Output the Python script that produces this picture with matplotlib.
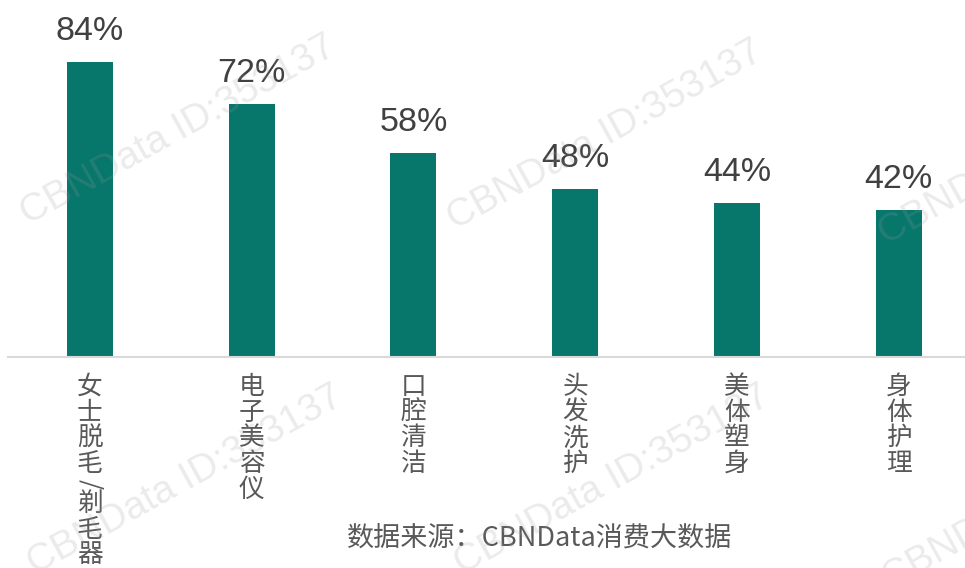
import matplotlib
matplotlib.use('Agg')
import matplotlib.pyplot as plt

categories = ['女士脱毛/剃毛器', '电子美容仪', '口腔清洁', '头发洗护', '美体塑身', '身体护理']
values = [84, 72, 58, 48, 44, 42]
value_labels = ['84%', '72%', '58%', '48%', '44%', '42%']
source = '数据来源：CBNData消费大数据'
watermark = 'CBNData ID:353137'

W, H = 965, 568
BAR = '#07776B'
TXT = '#404040'
CAT = '#595959'

fig = plt.figure(figsize=(W / 100, H / 100), dpi=100)
ax = fig.add_axes([8 / W, (H - 357) / H, 957 / W, 357 / H])

step = 161.8
x0 = -(89.8 - 8) / step
ax.set_xlim(x0, x0 + 957 / step)
ax.set_ylim(0, 357 / 3.51)

xs = list(range(len(values)))
ax.bar(xs, values, width=46 / step, color=BAR, zorder=2)

for i, v in enumerate(values):
    ax.annotate(value_labels[i], (i, v), xytext=(0, 15.8), textcoords='offset points',
                ha='center', va='baseline', fontsize=24.5, color=TXT,
                family=['Liberation Sans', 'DejaVu Sans'])

# category labels written top to bottom, one character at a time
for i, name in enumerate(categories):
    pos = 17.25
    for ch in name:
        adv = 14.5 if ch == '/' else 25.6
        mid = pos + adv / 2
        pos += adv
        ax.annotate(ch, (i, 0), xytext=(0, -mid * 0.72), textcoords='offset points',
                    ha='center', va='center', fontsize=18.5, color=CAT,
                    rotation=-90 if ch == '/' else 0, rotation_mode='anchor',
                    family=['Noto Sans CJK SC', 'DejaVu Sans'], annotation_clip=False)

for s in ['top', 'right', 'left']:
    ax.spines[s].set_visible(False)
ax.spines['bottom'].set_color('#D9D9D9')
ax.spines['bottom'].set_linewidth(1.5)
ax.set_xticks([])
ax.set_yticks([])

fig.text(540 / W, 1 - 538 / H, source, ha='center', va='center', fontsize=19.5,
         color=CAT, family=['Noto Sans CJK SC', 'DejaVu Sans'])

for cx, cy in [(178, 130), (605, 135), (1036, 150), (185, 480), (612, 480), (1040, 495)]:
    fig.text(cx / W, 1 - cy / H, watermark, ha='center', va='center', rotation=29,
             rotation_mode='anchor', fontsize=28, color='#999999', alpha=0.2,
             family='Liberation Sans', zorder=10)

fig.savefig('out.png', dpi=100)
